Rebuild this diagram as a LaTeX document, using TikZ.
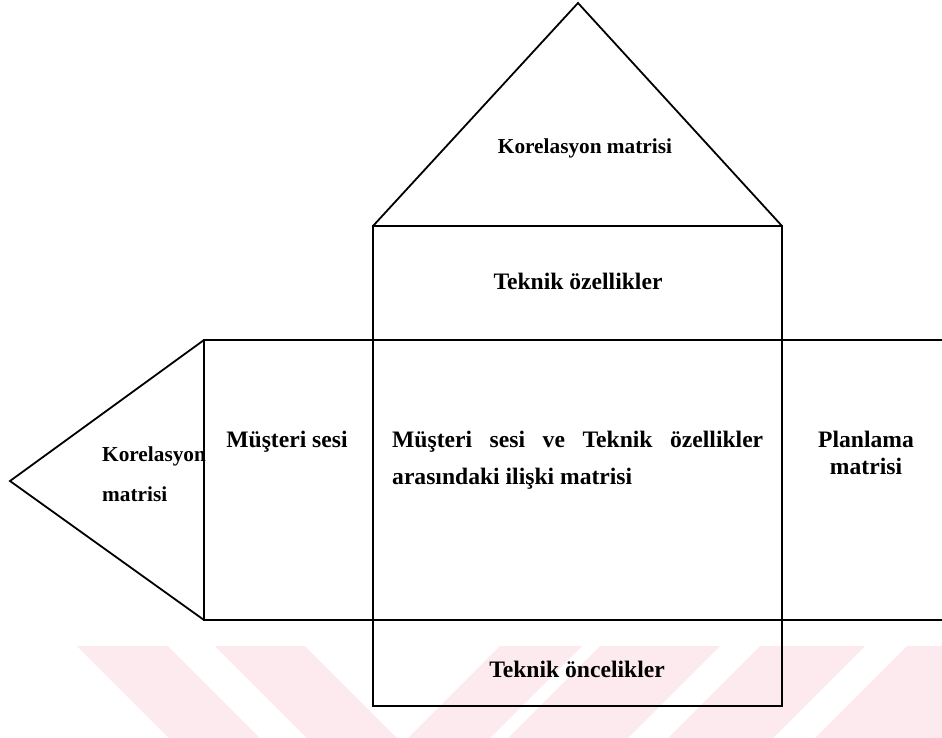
\documentclass[tikz,border=0pt]{standalone}
\usepackage{fontspec}
\setmainfont{Liberation Serif}
\definecolor{wm}{RGB}{252,234,238}
\begin{document}
\begin{tikzpicture}[x=1bp,y=-1bp,
  edge/.style={line width=1.8bp, line join=miter, black},
  big/.style={font=\fontsize{23.6bp}{28bp}\selectfont\bfseries, inner sep=0pt},
  small/.style={font=\fontsize{21.3bp}{26bp}\selectfont\bfseries, inner sep=0pt}]
\useasboundingbox (0,0) rectangle (942,738);
% faint watermark stripes
\begin{scope}
\clip (0,646) rectangle (942,738);
\foreach \a/\b in {77/168,215/305}
  \fill[wm] (\a,646) -- (\b,646) -- (\b+92,738) -- (\a+92,738) -- cycle;
\foreach \a/\b in {500/582,600/720,760/865,907/1040}
  \fill[wm] (\a,646) -- (\b,646) -- (\b-92,738) -- (\a-92,738) -- cycle;
\end{scope}
% key points
\coordinate (apex) at (578,3);
\coordinate (rl) at (373,226);
\coordinate (rr) at (782,226);
\coordinate (cbr) at (782,706);
\coordinate (bl) at (204,340);
\coordinate (bbl) at (204,620);
\coordinate (btr) at (942,340);
\coordinate (bbr) at (942,620);
\coordinate (tip) at (10,481);
% texts
\node[small, anchor=base] (roof) at (585,153) {Korelasyon matrisi};
\node[big, anchor=base] (tech) at (578,289) {Teknik özellikler};
\node[big, anchor=base] (voice) at (287,447) {Müşteri sesi};
\node[small, anchor=base west] (lk1) at (102,461) {Korelasyon};
\node[small, anchor=base west] (lk2) at (102,501) {matrisi};
\node[big, anchor=base west] (rel1) at (392,447) {\makebox[371bp][s]{Müşteri sesi ve Teknik özellikler}};
\node[big, anchor=base west] (rel2) at (392,484) {arasındaki ilişki matrisi};
\node[big, anchor=base] (plan1) at (866,447) {Planlama};
\node[big, anchor=base] (plan2) at (866,474) {matrisi};
\node[big, anchor=base] (prio) at (577,677) {Teknik öncelikler};
% outlines
\draw[edge] (rl) -- (apex) -- (rr);
\draw[edge] (rl) rectangle (cbr);
\draw[edge] (btr) -- (bl) -- (bbl) -- (bbr);
\draw[edge] (bl) -- (tip) -- (bbl);
\end{tikzpicture}
\end{document}
